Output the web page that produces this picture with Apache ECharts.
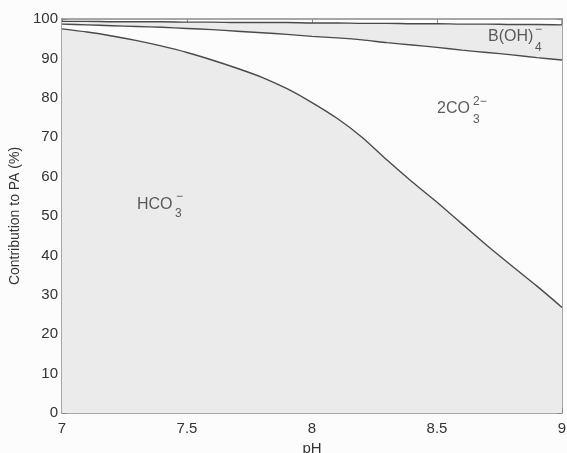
<!DOCTYPE html>
<html><head><meta charset="utf-8">
<script src="https://cdn.jsdelivr.net/npm/echarts@6/dist/echarts.min.js"></script>
<style>html,body{margin:0;padding:0;background:#fcfcfc}#c{width:567px;height:453px}</style>
</head><body><div id="c"></div>
<script>
// pH values (x axis)
const pH = [7.0,7.1,7.2,7.3,7.4,7.5,7.6,7.7,7.8,7.9,8.0,8.1,8.2,8.3,8.4,8.5,8.6,8.7,8.8,8.9,9.0];
// cumulative contribution boundaries (%)
const hco3Top = [97.5,96.7,95.7,94.5,93.1,91.5,89.6,87.5,85.2,82.3,78.8,74.8,70.0,64.2,58.7,53.5,48.0,42.5,37.3,32.2,26.8];
const co3Top  = [98.7,98.5,98.3,98.1,97.9,97.6,97.3,96.9,96.5,96.1,95.6,95.2,94.7,94.0,93.4,92.8,92.1,91.5,90.9,90.2,89.6];
const borTop  = [99.4,99.4,99.3,99.3,99.3,99.2,99.2,99.1,99.1,99.1,99.0,99.0,98.9,98.9,98.8,98.8,98.7,98.7,98.6,98.6,98.5];
const xMin = 7, xMax = 9, xStep = 0.5;
const yMin = 0, yMax = 100, yStep = 10;
// annotation anchors [pH, %]
const labelHCO3 = [7.3, 53.0];
const labelCO3  = [8.5, 77.2];
const labelBOH  = [8.704, 95.6];

const FONT = '"Liberation Sans", Arial, sans-serif';
const TXT = '#333';
const FILL = '#ebebeb';
const LINE = '#4a4a4a';
const AX = '#8a8a8a';

function pts(arr){ return pH.map((x,i)=>[x,arr[i]]); }

const chart = echarts.init(document.getElementById('c'), null, {renderer:'canvas'});
const baseX = {
  type:'value', min:xMin, max:xMax, interval:xStep,
  axisLine:{show:true, onZero:false, lineStyle:{color:AX, width:1.5}},
  axisTick:{show:true, inside:true, length:5, lineStyle:{color:AX}},
  splitLine:{show:false}
};
const baseY = {
  type:'value', min:yMin, max:yMax, interval:yStep,
  axisLine:{show:true, onZero:false, lineStyle:{color:AX, width:1.5}},
  axisTick:{show:true, inside:true, length:5, lineStyle:{color:AX}},
  splitLine:{show:false}
};
function areaSeries(name, arr, fill){
  return {
    name, type:'line', data:pts(arr), xAxisIndex:0, yAxisIndex:0,
    showSymbol:false, smooth:0.25, animation:false,
    lineStyle:{color:LINE, width:1.4},
    areaStyle:{color:fill, opacity:1, origin:'start'}
  };
}
function lbl(anchor, text, size, dx, dy){
  return {
    value: anchor,
    label:{show:true, formatter:text, position:[dx,dy], align:'left', verticalAlign:'middle',
      color:TXT, fontFamily:FONT, fontSize:size}
  };
}
const labelItems = [
  lbl(labelHCO3, 'HCO', 16, 0, 0), lbl(labelHCO3, '3', 12, 38, 10), lbl(labelHCO3, '\u2212', 12, 39, -7),
  lbl(labelCO3, '2CO', 16, 0, 0), lbl(labelCO3, '3', 12, 36, 11), lbl(labelCO3, '2\u2212', 12, 36, -7),
  lbl(labelBOH, 'B(OH)', 16, 0, 0), lbl(labelBOH, '4', 12, 47, 11), lbl(labelBOH, '\u2212', 12, 47, -7)
];
chart.setOption({
  animation:false,
  backgroundColor:'#fcfcfc',
  grid:{left:62, right:5, top:19, bottom:40, containLabel:false, outerBoundsMode:'none'},
  xAxis:[
    Object.assign({}, baseX, {position:'bottom',
      axisLabel:{color:TXT, fontFamily:FONT, fontSize:15, margin:8},
      name:'pH', nameLocation:'middle', nameGap:28,
      nameTextStyle:{color:TXT, fontFamily:FONT, fontSize:15}}),
    Object.assign({}, baseX, {position:'top', axisLabel:{show:false}})
  ],
  yAxis:[
    Object.assign({}, baseY, {position:'left',
      axisLabel:{color:TXT, fontFamily:FONT, fontSize:15, margin:4},
      name:'Contribution to PA (%)', nameLocation:'middle', nameGap:32,
      nameTextStyle:{color:TXT, fontFamily:FONT, fontSize:14}}),
    Object.assign({}, baseY, {position:'right', axisLabel:{show:false}})
  ],
  series:[
    areaSeries('B(OH)4-', borTop, FILL),
    areaSeries('CO3 2-', co3Top, '#fcfcfc'),
    areaSeries('HCO3-', hco3Top, FILL),
    {name:'labels', type:'scatter', xAxisIndex:0, yAxisIndex:0, symbolSize:0, z:10,
     silent:true, data:labelItems, labelLayout:{hideOverlap:false}}
  ]
});
</script></body></html>
